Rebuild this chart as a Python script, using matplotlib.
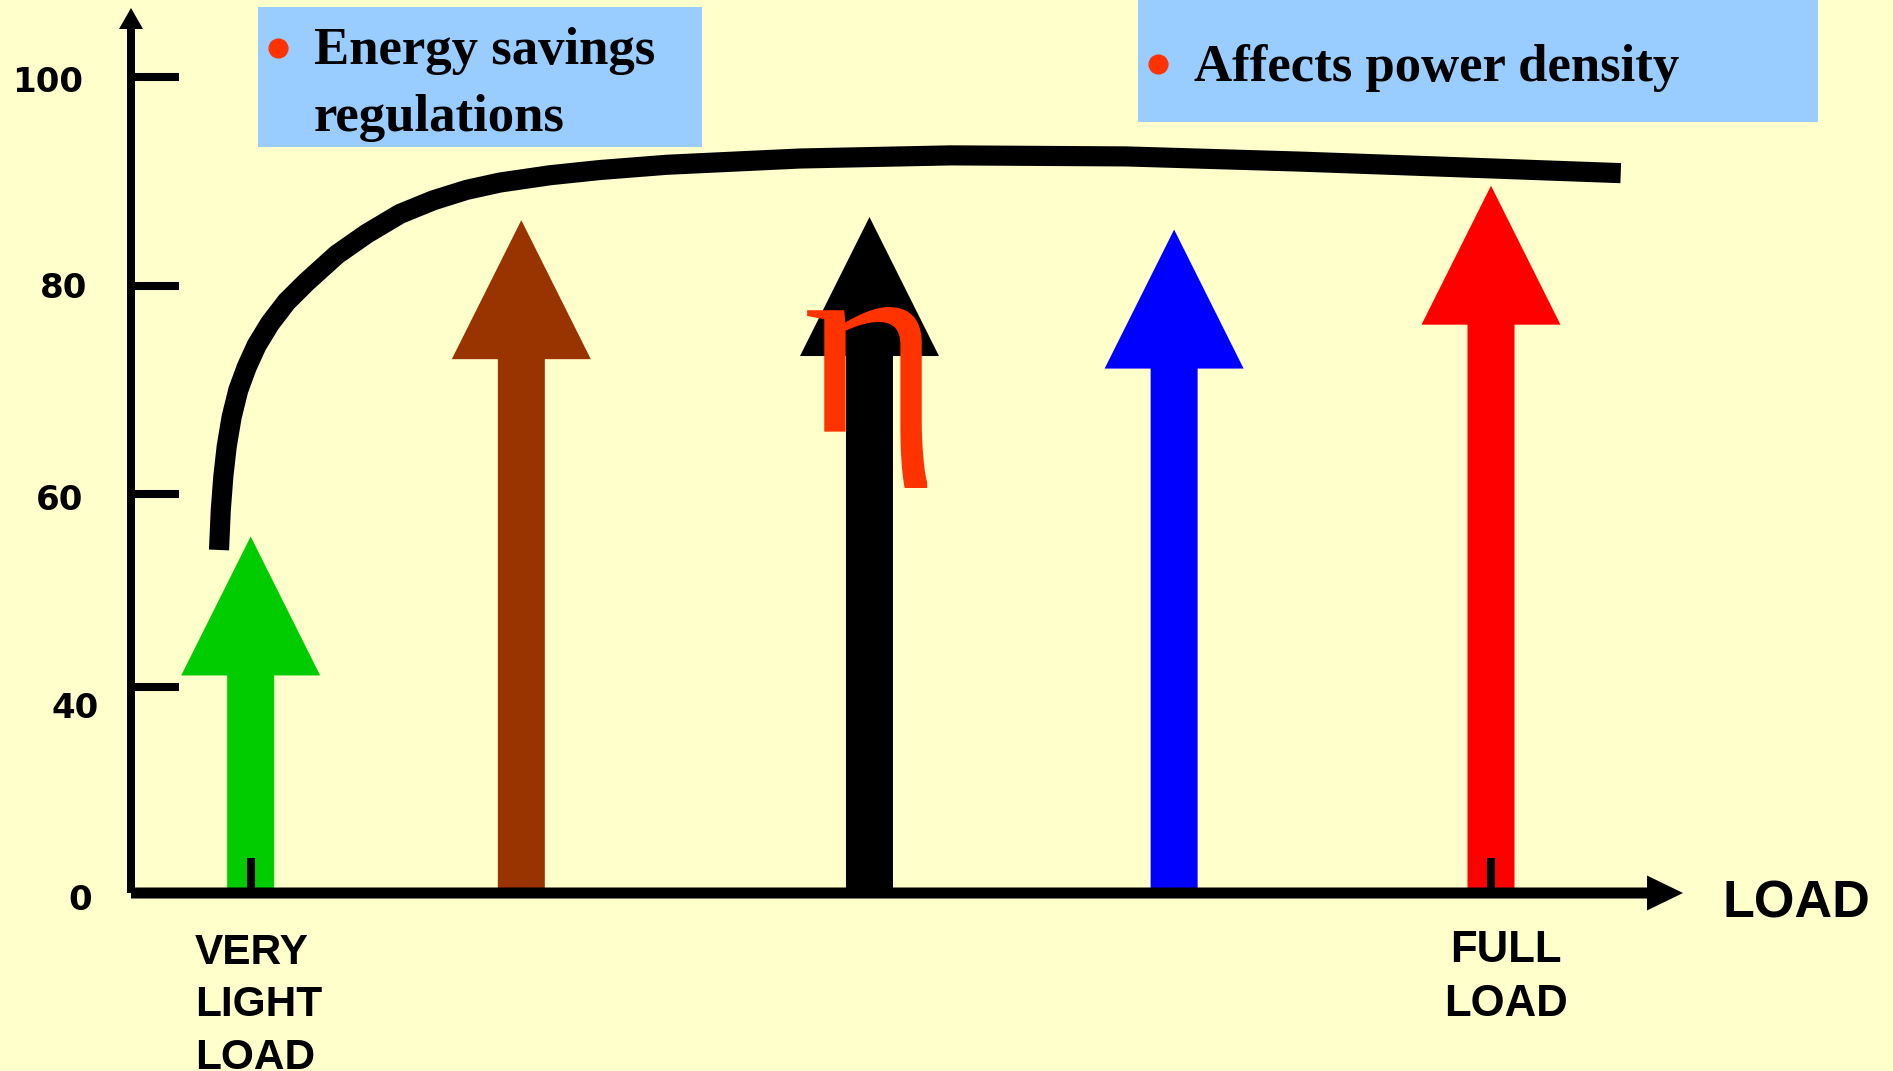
import numpy as np
import matplotlib.pyplot as plt
from matplotlib.patches import Rectangle

# efficiency curve: load in % of full load, efficiency in %
curve_load = [6.47, 6.60, 6.79, 7.04, 7.40, 7.89, 8.51, 9.24, 10.22, 11.45, 12.92, 15.13,
              17.33, 19.78, 22.23, 24.68, 27.13, 30.81, 34.49, 39.39, 44.29, 49.19,
              60.29, 73.16, 86.07, 98.97, 109.54]
curve_eff = [54.2, 58.3, 61.7, 64.6, 67.4, 70.0, 72.2, 74.3, 76.4, 78.5, 80.4, 83.0,
             85.0, 86.9, 88.2, 89.2, 89.9, 90.6, 91.1, 91.6, 91.9, 92.2,
             92.5, 92.4, 91.9, 91.3, 90.8]

# big arrows standing on the load axis
arrow_load = [8.8, 28.7, 54.3, 76.7, 100.0]
arrow_top = [55.6, 86.3, 86.6, 85.4, 89.6]
arrow_colors = ['#00CC00', '#993300', '#000000', '#0000FF', '#FF0000']

y_ticks = [0, 40, 60, 80, 100]
x_marks = [8.8, 100.0]
x_mark_labels = ['VERY\nLIGHT\nLOAD', 'FULL\nLOAD']

box_texts = ['Energy savings\nregulations', 'Affects power density']

W, H = 1893, 1071
BG = '#FFFFCC'
PX = 13.6  # pixels per % load

# the efficiency axis is not to scale: 0..40 is squeezed
_v = [-100, 0, 40, 60, 80, 100, 200]
_h = [-515, 0, 206, 399, 607, 816, 1861]


def fwd(v):
    return np.interp(v, _v, _h)


def inv(h):
    return np.interp(h, _h, _v)


def fx(px):
    return px / W


def fy(py):
    return 1 - py / H


fig = plt.figure(figsize=(W / 100, H / 100), dpi=100, facecolor=BG)
ax = fig.add_axes([0, 0, 1, 1], facecolor=BG)
ax.set_yscale('function', functions=(fwd, inv))

# arrows
for x, top, c in zip(arrow_load, arrow_top, arrow_colors):
    hl = top - inv(fwd(top) - 139)
    ax.arrow(x, 0, 0, top, width=47 / PX, head_width=139 / PX, head_length=hl,
             length_includes_head=True, fc=c, ec='none', lw=0, zorder=1.5)

# efficiency curve
ax.plot(curve_load, curve_eff, color='black', lw=14.5,
        solid_capstyle='butt', solid_joinstyle='round', zorder=2)

ax.text(54.45, 66.0, 'η', color='#FF3300', fontsize=190, family='Liberation Serif',
        ha='center', va='baseline', zorder=4)

# axes drawn as arrows
x_tip = (1683 - 131) / PX
ax.arrow(0, 0, x_tip, 0, width=11 / 5.15, head_width=35 / 5.15, head_length=36 / PX,
         length_includes_head=True, fc='black', ec='none', lw=0, zorder=3)
y_tip = inv(885)
ax.arrow(0, 0, 0, y_tip, width=8 / PX, head_width=24 / PX, head_length=y_tip - inv(864),
         length_includes_head=True, fc='black', ec='none', lw=0, zorder=3)

for s in ax.spines.values():
    s.set_visible(False)
ax.spines['left'].set_position(('data', 0))
ax.spines['bottom'].set_position(('data', 0))

ax.set_yticks(y_ticks)
ax.tick_params(axis='y', direction='in', length=34.5, width=5.8, color='black', labelleft=False)
ax.yaxis.set_minor_locator(plt.NullLocator())

# tick labels sit a little unevenly in the original
label_dx = [-39, -32, -48, -44, -48]
label_dy = [-7, -22, -6, -2, -5]
for v, dx, dy in zip(y_ticks, label_dx, label_dy):
    ax.annotate(str(v), xy=(0, v), xytext=(dx, dy), textcoords='offset pixels',
                ha='right', va='center', fontsize=24.5, fontweight='bold', family='DejaVu Sans')

ax.set_xticks(x_marks)
ax.tick_params(axis='x', direction='in', length=25, width=5.8, labelbottom=False)

ax.set_xlim(-131 / PX, (W - 131) / PX)
ax.set_ylim(inv(-178), inv(893))

# axis labels
ax.annotate('LOAD', xy=(x_tip, 0), xytext=(39, -25), textcoords='offset pixels',
            ha='left', va='baseline', fontsize=37.5, fontweight='bold', family='Liberation Sans')
ax.annotate(x_mark_labels[0], xy=(x_marks[0], 0), xytext=(195 - 251, -40), textcoords='offset pixels',
            ha='left', va='top', fontsize=30.5, fontweight='bold', family='Liberation Sans',
            linespacing=1.4)
ax.annotate(x_mark_labels[1], xy=(x_marks[1], 0), xytext=(15, -37), textcoords='offset pixels',
            ha='center', va='top', fontsize=31.5, fontweight='bold', family='Liberation Sans',
            linespacing=1.4)

# blue note boxes
ax.add_patch(Rectangle((fx(258), fy(147)), fx(702) - fx(258), fy(7) - fy(147),
                       transform=ax.transAxes, fc='#99CCFF', ec='none', zorder=5))
ax.add_patch(Rectangle((fx(1138), fy(122)), fx(1818) - fx(1138), 1 - fy(122),
                       transform=ax.transAxes, fc='#99CCFF', ec='none', zorder=5))
ax.plot([fx(277.5), fx(1158)], [fy(48), fy(64)], 'o', ms=13.5, color='#FF3300',
        transform=ax.transAxes, zorder=6)
ax.text(fx(314), fy(27), box_texts[0], transform=ax.transAxes, ha='left', va='top',
        fontsize=38, fontweight='bold', family='Liberation Serif', linespacing=1.5, zorder=6)
ax.text(fx(1194), fy(44), box_texts[1], transform=ax.transAxes, ha='left', va='top',
        fontsize=38, fontweight='bold', family='Liberation Serif', zorder=6)

fig.savefig('out.png', dpi=100, facecolor=BG)
